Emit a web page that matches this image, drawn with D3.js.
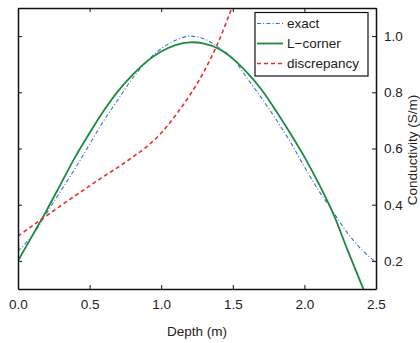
<!DOCTYPE html>
<html>
<head>
<meta charset="utf-8">
<script src="https://cdn.jsdelivr.net/npm/d3@7"></script>
<style>
  body { margin: 0; background: #fff; }
  text { font-family: "Liberation Sans", Arial, sans-serif; fill: #222; }
</style>
</head>
<body>
<script>
const depth = [0.0, 0.1, 0.2, 0.3, 0.4, 0.5, 0.6, 0.7, 0.8, 0.9, 1.0, 1.1, 1.2,
  1.3, 1.4, 1.5, 1.6, 1.7, 1.8, 1.9, 2.0, 2.1, 2.2, 2.3, 2.4, 2.5];
const exact = [0.235, 0.29, 0.37, 0.45, 0.53, 0.615, 0.70, 0.775, 0.85, 0.91, 0.955, 0.985, 1.0,
  0.99, 0.96, 0.92, 0.85, 0.78, 0.705, 0.625, 0.535, 0.45, 0.375, 0.30, 0.24, 0.195];
const lcorner = [0.20, 0.29, 0.38, 0.475, 0.57, 0.655, 0.735, 0.805, 0.862, 0.91, 0.945, 0.968, 0.978,
  0.973, 0.955, 0.92, 0.87, 0.81, 0.735, 0.655, 0.57, 0.475, 0.37, 0.24, 0.115, -0.01];
const discDepth = [0.0, 0.1, 0.2, 0.3, 0.4, 0.5, 0.6, 0.7, 0.8, 0.9, 1.0, 1.1, 1.2, 1.3, 1.4, 1.5, 1.6];
const discrepancy = [0.288, 0.325, 0.361, 0.397, 0.432, 0.467, 0.501, 0.534, 0.569, 0.607, 0.655, 0.718,
  0.79, 0.875, 0.98, 1.11, 1.25];
const xTicks = [0.0, 0.5, 1.0, 1.5, 2.0, 2.5];
const yTicks = [0.2, 0.4, 0.6, 0.8, 1.0];
const legendNames = ['exact', 'L\u2212corner', 'discrepancy'];

const w = 420, h = 343;
const mLeft = 18, mRight = 376, mTop = 8, mBottom = 289;

const x = d3.scaleLinear().domain([0, 2.5]).range([mLeft, mRight]);
const y = d3.scaleLinear().domain([0.1, 1.1]).range([mBottom, mTop]);

const svg = d3.select('body').append('svg')
  .attr('width', w).attr('height', h);

svg.append('clipPath').attr('id', 'plot')
  .append('rect')
    .attr('x', mLeft).attr('y', mTop)
    .attr('width', mRight - mLeft).attr('height', mBottom - mTop);

const line = d3.line()
  .x(d => x(d[0]))
  .y(d => y(d[1]))
  .curve(d3.curveCatmullRom);

const series = [
  { name: legendNames[0], pts: d3.zip(depth, exact), color: '#3b6fc6', width: 1.1, dash: '4,2.2,1,2.2' },
  { name: legendNames[1], pts: d3.zip(depth, lcorner), color: '#1b8a3e', width: 1.8, dash: null },
  { name: legendNames[2], pts: d3.zip(discDepth, discrepancy), color: '#ee2a2a', width: 1.6, dash: '4,3' }
];

const g = svg.append('g').attr('clip-path', 'url(#plot)');
g.selectAll('path.series')
  .data(series)
  .enter().append('path')
    .attr('class', 'series')
    .attr('d', d => line(d.pts))
    .attr('fill', 'none')
    .attr('stroke', d => d.color)
    .attr('stroke-width', d => d.width)
    .attr('stroke-dasharray', d => d.dash);

// frame with inward ticks on all sides
const axisBottom = d3.axisBottom(x).tickValues(xTicks).tickSizeInner(-4).tickSizeOuter(0)
  .tickPadding(10).tickFormat(d3.format('.1f'));
const axisTop = d3.axisTop(x).tickValues(xTicks).tickSizeInner(-4).tickSizeOuter(0).tickFormat('');
const axisLeft = d3.axisLeft(y).tickValues(yTicks).tickSizeInner(-4).tickSizeOuter(0).tickFormat('');
const axisRight = d3.axisRight(y).tickValues(yTicks).tickSizeInner(-4).tickSizeOuter(0)
  .tickPadding(8).tickFormat(d3.format('.1f'));

const styleAxis = sel => {
  sel.select('.domain').attr('stroke', '#111').attr('stroke-width', 1.5);
  sel.selectAll('.tick line').attr('stroke', '#111').attr('stroke-width', 1);
  sel.selectAll('.tick text').attr('font-size', 13.5).attr('fill', '#222')
    .attr('font-family', '"Liberation Sans", Arial, sans-serif');
};

svg.append('g').attr('transform', `translate(0,${mBottom})`).call(axisBottom).call(styleAxis);
svg.append('g').attr('transform', `translate(0,${mTop})`).call(axisTop).call(styleAxis);
svg.append('g').attr('transform', `translate(${mLeft},0)`).call(axisLeft).call(styleAxis);
svg.append('g').attr('transform', `translate(${mRight},0)`).call(axisRight).call(styleAxis);

svg.append('text')
  .attr('x', (mLeft + mRight) / 2).attr('y', 336)
  .attr('text-anchor', 'middle').attr('font-size', 13.5)
  .text('Depth (m)');

svg.append('text')
  .attr('transform', 'translate(417,150) rotate(-90)')
  .attr('text-anchor', 'middle').attr('font-size', 13.5)
  .text('Conductivity (S/m)');

// legend
const lg = svg.append('g').attr('transform', 'translate(255,12.5)');
lg.append('rect')
  .attr('width', 113).attr('height', 63.5)
  .attr('fill', '#fff').attr('stroke', '#111').attr('stroke-width', 1.2);

const item = lg.selectAll('g.item')
  .data(series)
  .enter().append('g')
    .attr('class', 'item')
    .attr('transform', (d, i) => `translate(0,${11 + i * 20})`);
item.append('line')
  .attr('x1', 2).attr('x2', 28)
  .attr('stroke', d => d.color)
  .attr('stroke-width', d => d.width)
  .attr('stroke-dasharray', d => d.dash);
item.append('text')
  .attr('x', 32).attr('dy', '0.35em')
  .attr('font-size', 13.5)
  .text(d => d.name);
</script>
</body>
</html>
